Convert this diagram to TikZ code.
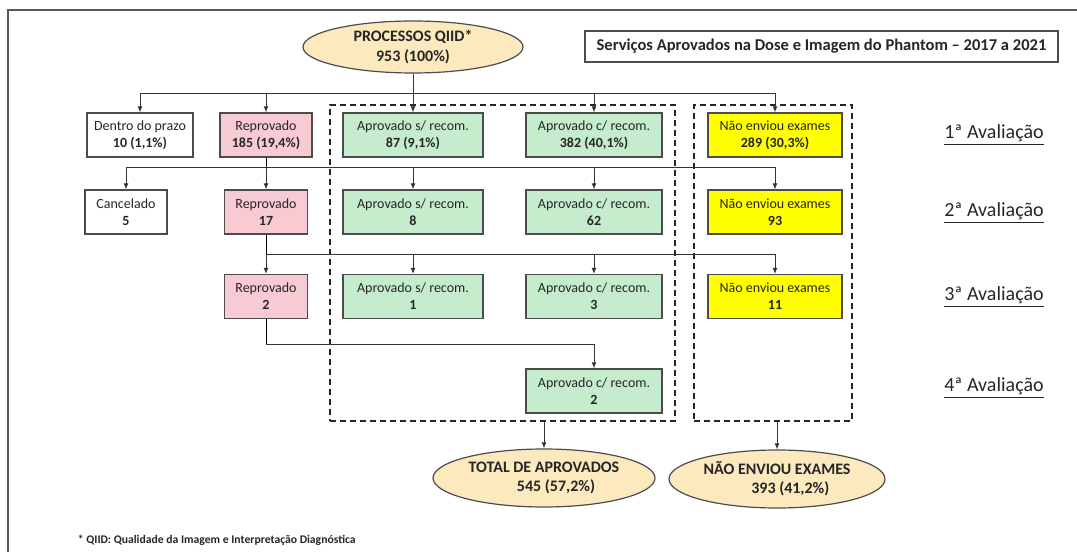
\documentclass[tikz,border=0pt]{standalone}
\usepackage{fontspec}
\setmainfont{Carlito}
\usetikzlibrary{arrows.meta,shapes.geometric,fit}

\definecolor{pinkfill}{RGB}{248,203,210}
\definecolor{greenfill}{RGB}{198,236,206}
\definecolor{ovalfill}{RGB}{252,234,190}
\definecolor{yelfill}{RGB}{255,255,0}
\definecolor{inkgray}{RGB}{38,38,38}

\tikzset{every picture/.style={line width=0.75pt}}
\tikzset{
	box/.style={draw=black!70, line width=0.9pt, minimum height=33pt, inner sep=0pt, align=center, text=inkgray, font=\fontsize{10.5}{12.75}\selectfont},
	whitebox/.style={box, fill=white},
	redbox/.style={box, fill=pinkfill},
	greenbox/.style={box, fill=greenfill},
	yellowbox/.style={box, fill=yelfill},
	oval/.style={ellipse, draw=black!70, fill=ovalfill, line width=0.9pt, inner sep=0pt, align=center, text=inkgray, font=\bfseries\fontsize{12}{14.5}\selectfont},
	dashbox/.style={draw=black!85, line width=1.2pt, dash pattern=on 4.5pt off 3pt, inner sep=0pt},
	arr/.style={-{Latex[length=4.5pt,width=3.75pt]}, draw=black!80},
	lvl/.style={text=inkgray, font=\fontsize{15}{18}\selectfont},
}

\begin{document}
\begin{tikzpicture}[x=0.75pt,y=0.75pt,yscale=-1,xscale=1]
	\useasboundingbox (0,0) rectangle (1077,552);

	% frame
	\draw [draw=black!65, line width=0.9pt] (1077,10) -- (8,10) -- (8,552);

	% title
	\node [draw=black!70, line width=0.9pt, minimum width=354.75pt, minimum height=23.25pt, text=inkgray, font=\bfseries\fontsize{12.4}{14}\selectfont] (title) at (821.5,46.5) {Serviços Aprovados na Dose e Imagem do Phantom – 2017 a 2021};

	% ovals
	\node [oval, minimum width=165pt, minimum height=39pt] (top) at (413,47) {PROCESSOS QIID*\\953 (100\%)};
	\node [oval, minimum width=166.5pt, minimum height=43.5pt] (total) at (544,478) {TOTAL DE APROVADOS\\\hspace*{18pt}545 (57,2\%)};
	\node [oval, minimum width=162pt, minimum height=43.5pt] (naoT) at (777,479) {NÃO ENVIOU EXAMES\\\hspace*{20pt}393 (41,2\%)};

	% 1a avaliacao
	\node [whitebox, minimum width=79.5pt] (dentro) at (140,135) {Dentro do prazo\\\textbf{10 (1,1\%)}};
	\node [redbox, minimum width=69pt] (rep1) at (266,135) {Reprovado\\\textbf{185 (19,4\%)}};
	\node [greenbox, minimum width=105pt] (as1) at (413,135) {Aprovado s/ recom.\\\textbf{87 (9,1\%)}};
	\node [greenbox, minimum width=102pt] (ac1) at (594,135) {Aprovado c/ recom.\\\textbf{382 (40,1\%)}};
	\node [yellowbox, minimum width=100.5pt] (nao1) at (775,135) {Não enviou exames\\\textbf{289 (30,3\%)}};

	% 2a avaliacao
	\node [whitebox, minimum width=61.5pt] (canc) at (126,212) {Cancelado\\\textbf{5}};
	\node [redbox, minimum width=62.25pt] (rep2) at (266,212) {Reprovado\\\textbf{17}};
	\node [greenbox, minimum width=105pt] (as2) at (413,212) {Aprovado s/ recom.\\\textbf{8}};
	\node [greenbox, minimum width=102pt] (ac2) at (594,212) {Aprovado c/ recom.\\\textbf{62}};
	\node [yellowbox, minimum width=100.5pt] (nao2) at (775,212) {Não enviou exames\\\textbf{93}};

	% 3a avaliacao
	\node [redbox, minimum width=62.25pt] (rep3) at (266,296.5) {Reprovado\\\textbf{2}};
	\node [greenbox, minimum width=105pt] (as3) at (413,296.5) {Aprovado s/ recom.\\\textbf{1}};
	\node [greenbox, minimum width=102pt] (ac3) at (594,296.5) {Aprovado c/ recom.\\\textbf{3}};
	\node [yellowbox, minimum width=100.5pt] (nao3) at (775,296.5) {Não enviou exames\\\textbf{11}};

	% 4a avaliacao
	\node [greenbox, minimum width=102pt] (ac4) at (594,391) {Aprovado c/ recom.\\\textbf{2}};

	% dashed groups
	\node [dashbox, fit={(330,105) (675,421)}] (grpA) {};
	\node [dashbox, fit={(694,105) (852,421)}] (grpB) {};

	% connectors
	\coordinate (bus1) at (413,94);
	\draw [arr] (top) -- (as1);
	\foreach \n in {dentro,rep1,ac1,nao1}
		\draw [arr] (bus1) -| (\n);

	\coordinate (bus2) at (rep1.south |- 0,168);
	\draw (rep1) -- (bus2);
	\foreach \n in {canc,rep2,as2,ac2,nao2}
		\draw [arr] (bus2) -| (\n);

	\coordinate (bus3) at (rep2.south |- 0,255);
	\draw (rep2) -- (bus3);
	\foreach \n in {rep3,as3,ac3,nao3}
		\draw [arr] (bus3) -| (\n);

	\coordinate (bus4) at (rep3.south |- 0,344);
	\draw (rep3) -- (bus4);
	\draw [arr] (bus4) -| (ac4);

	\draw [arr] (grpA.south -| total) -- (total);
	\draw [arr] (grpB.south -| naoT) -- (naoT);

	% levels
	\foreach \k/\y in {1/135,2/213,3/297,4/388}
		\node [lvl] (lvl\k) at (994,\y) {\underline{{\k}ª Avaliação}};

	% footnote
	\node [anchor=west, text=inkgray, font=\bfseries\fontsize{8.75}{10}\selectfont] (note) at (73,540) {* QIID: Qualidade da Imagem e Interpretação Diagnóstica};

\end{tikzpicture}
\end{document}
